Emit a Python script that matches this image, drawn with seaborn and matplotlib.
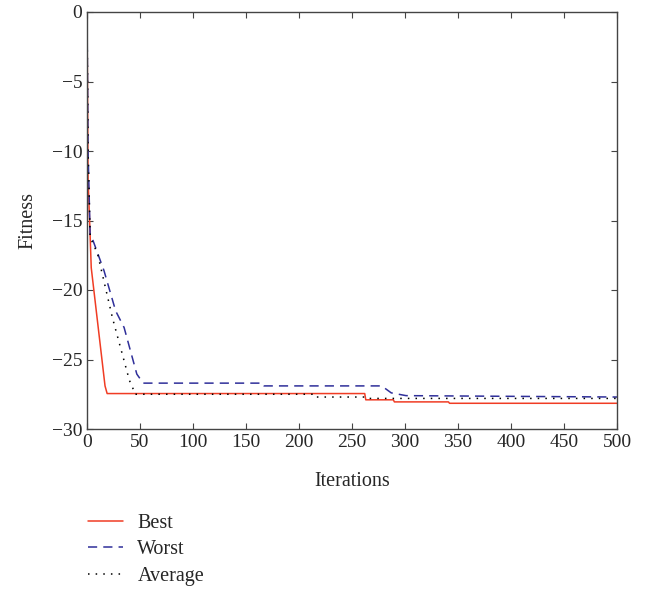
import matplotlib
matplotlib.use('Agg')
import seaborn as sns
from matplotlib import pyplot as plt

# breakpoints
best_x = [0, 1, 3, 4, 17, 19, 262, 263, 289, 290, 341, 342, 500]
best_y = [0, -12, -16.2, -18.4, -26.9, -27.45, -27.45, -27.9, -27.9, -28.05, -28.05, -28.15, -28.15]

worst_x = [0, 1, 3, 5, 16, 27, 35, 47, 53, 166, 167, 278, 287, 301, 500]
worst_y = [0, -10, -16.2, -16.3, -18.6, -21.5, -22.7, -26.05, -26.7, -26.7, -26.9, -26.9, -27.4, -27.6, -27.7]

avg_x = [0, 1, 3, 10, 24, 40, 44, 45, 213, 214, 264, 265, 500]
avg_y = [0, -10, -16.2, -17.4, -22, -26.5, -27.2, -27.5, -27.5, -27.7, -27.7, -27.8, -27.8]

x_ticks = list(range(0, 501, 50))
y_ticks = [0, -5, -10, -15, -20, -25, -30]

sns.set_style('ticks')
plt.rcParams['font.family'] = ['Liberation Serif', 'DejaVu Serif']
plt.rcParams['xtick.direction'] = 'in'
plt.rcParams['ytick.direction'] = 'in'

fig = plt.figure(figsize=(6.51, 5.91), dpi=100)
ax = fig.add_axes([87 / 651, 1 - 429 / 591, 530 / 651, 417 / 591])

sns.lineplot(x=best_x, y=best_y, ax=ax, estimator=None, sort=False,
             color='#f03c24', lw=1.1, label='Best')
sns.lineplot(x=worst_x, y=worst_y, ax=ax, estimator=None, sort=False,
             color='#2f2f9a', lw=1.1, label='Worst')
sns.lineplot(x=avg_x, y=avg_y, ax=ax, estimator=None, sort=False,
             color='black', lw=1.1, label='Average')
ax.lines[1].set_dashes([6, 4])
ax.lines[2].set_dashes([1, 4])

ax.set_xlim(0, 500)
ax.set_ylim(-30, 0)
ax.set_xticks(x_ticks)
ax.set_yticks(y_ticks)
ax.set_yticklabels(['0' if v == 0 else '\u2212' + str(-v) for v in y_ticks])
ax.tick_params(labelsize=14, top=True, right=True, length=4, color='#444444')
for s in ax.spines.values():
    s.set_color('#444444')
    s.set_linewidth(1.0)
ax.set_xlabel('Iterations', fontsize=14.5, labelpad=15)
ax.set_ylabel('Fitness', fontsize=14.5, labelpad=10)

handles, labels = ax.get_legend_handles_labels()
ax.get_legend().remove()
fig.legend(handles, labels, loc='upper left', bbox_to_anchor=(88 / 651, 1 - 514 / 591),
           frameon=False, fontsize=14.5, handlelength=1.75, handletextpad=0.7,
           labelspacing=0.36, borderaxespad=0, borderpad=0)

fig.savefig('out.png', dpi=100)
